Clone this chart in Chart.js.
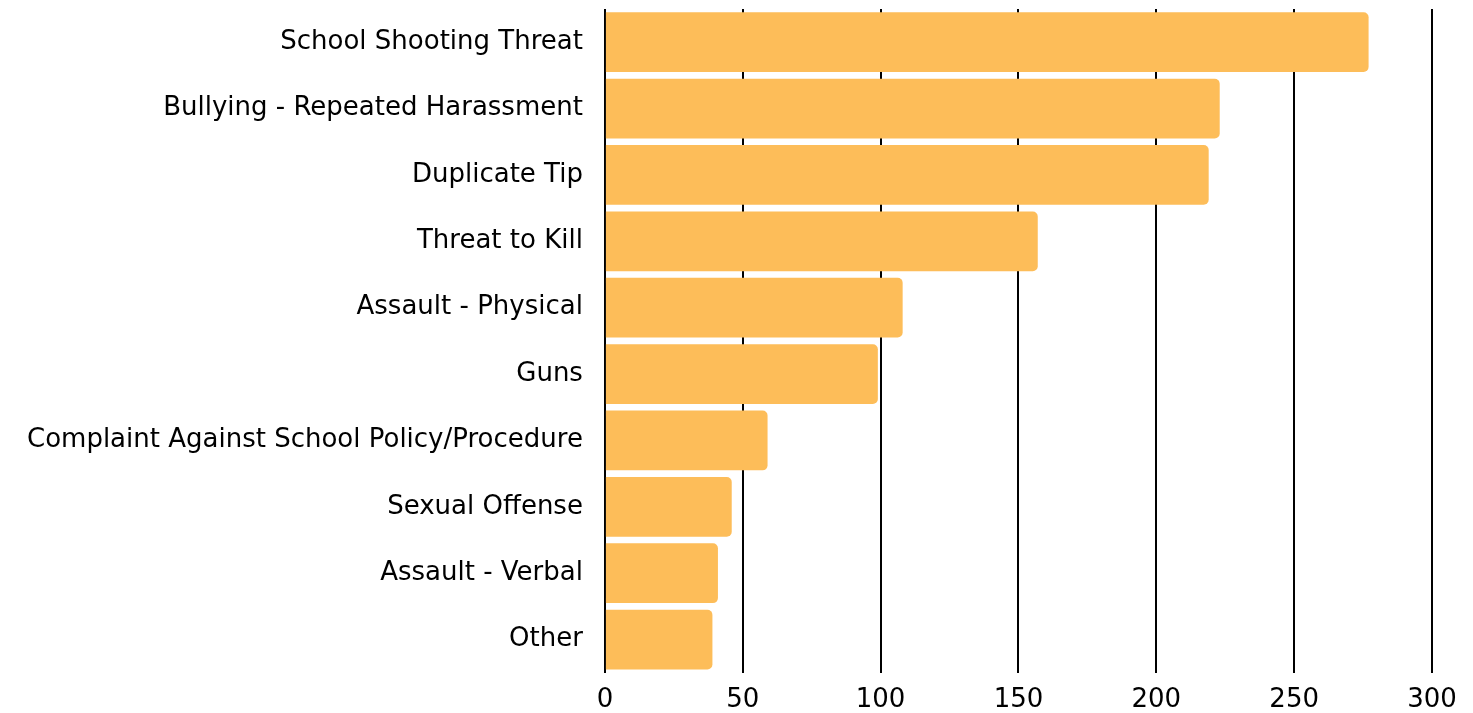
<!DOCTYPE html>
<html lang="en">
<head>
    <meta charset="UTF-8" />
    <title>Tips by Category</title>
    <script src="https://cdn.jsdelivr.net/npm/chart.js"></script>
    <style>
        html, body { margin: 0; padding: 0; background: #fff; }
        #wrap { width: 1473px; height: 713px; }
    </style>
</head>
<body>
    <div id="wrap"><canvas id="tipChart"></canvas></div>

    <script>
        // categories and counts
        const categories = [
            "School Shooting Threat",
            "Bullying - Repeated Harassment",
            "Duplicate Tip",
            "Threat to Kill",
            "Assault - Physical",
            "Guns",
            "Complaint Against School Policy/Procedure",
            "Sexual Offense",
            "Assault - Verbal",
            "Other"
        ];
        const tipCounts = [277, 223, 219, 157, 108, 99, 59, 46, 41, 39];
        const xTicks = [0, 50, 100, 150, 200, 250, 300];

        const ctx = document.getElementById("tipChart").getContext("2d");

        new Chart(ctx, {
            type: 'bar',
            data: {
                labels: categories,
                datasets: [{
                    label: 'Tips',
                    data: tipCounts,
                    backgroundColor: 'rgb(253, 189, 89)',
                    borderRadius: 5,
                    borderSkipped: 'start',
                    barPercentage: 0.9,
                    categoryPercentage: 1.0
                }]
            },
            options: {
                indexAxis: 'y',
                responsive: true,
                maintainAspectRatio: false,
                animation: false,
                layout: { padding: { top: 9, right: 41, left: 5, bottom: -15 } },
                plugins: {
                    legend: { display: false },
                    tooltip: { enabled: false }
                },
                scales: {
                    x: {
                        min: xTicks[0],
                        max: xTicks[xTicks.length - 1],
                        afterBuildTicks: (axis) => {
                            axis.ticks = xTicks.map(v => ({ value: v }));
                        },
                        grid: { color: '#000', lineWidth: 2, drawTicks: false },
                        border: { display: false },
                        ticks: {
                            color: '#000',
                            padding: 12,
                            font: { family: 'DejaVu Sans', size: 26 }
                        }
                    },
                    y: {
                        grid: { display: false, drawTicks: false },
                        border: { display: false },
                        // tick padding would otherwise push the plot down
                        afterFit: (axis) => {
                            axis.paddingTop = 0;
                            axis.paddingBottom = 0;
                        },
                        ticks: {
                            color: '#000',
                            padding: 22,
                            font: { family: 'DejaVu Sans', size: 26 }
                        }
                    }
                }
            }
        });
    </script>
</body>
</html>
